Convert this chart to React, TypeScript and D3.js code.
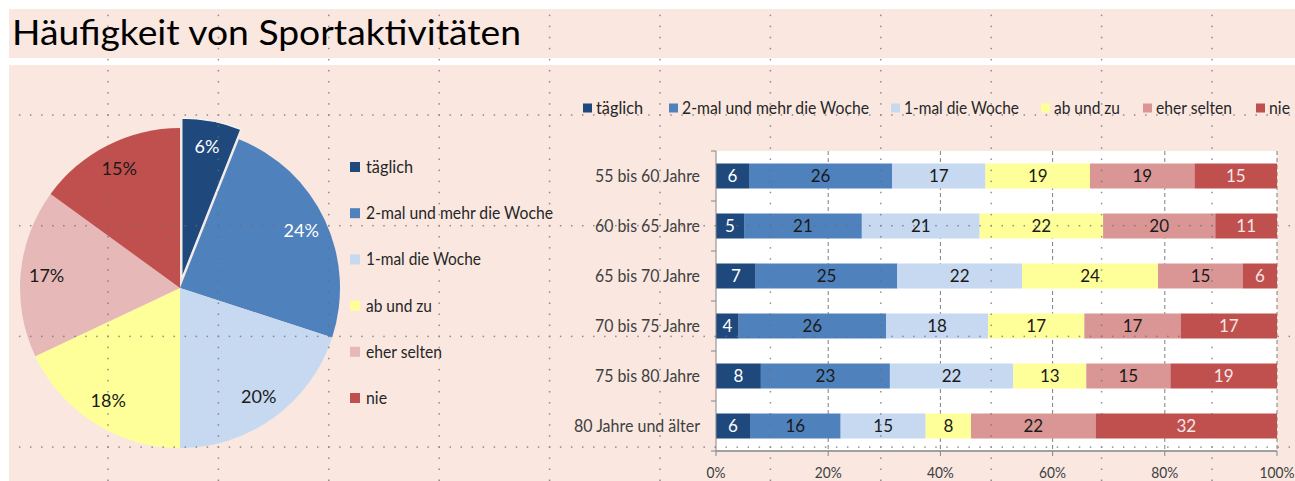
import React from "react";
import * as d3 from "d3";

// ---------- data ----------
const TITLE = "Häufigkeit von Sportaktivitäten";
const categories = [
  "täglich",
  "2-mal und mehr die Woche",
  "1-mal die Woche",
  "ab und zu",
  "eher selten",
  "nie",
];
const pieValues = [6, 24, 20, 18, 17, 15];

const ageGroups = [
  "55 bis 60 Jahre",
  "60 bis 65 Jahre",
  "65 bis 70 Jahre",
  "70 bis 75 Jahre",
  "75 bis 80 Jahre",
  "80 Jahre und älter",
];
const taeglich = [6, 5, 7, 4, 8, 6];
const zweimal = [26, 21, 25, 26, 23, 16];
const einmal = [17, 21, 22, 18, 22, 15];
const abUndZu = [19, 22, 24, 17, 13, 8];
const eherSelten = [19, 20, 15, 17, 15, 22];
const nie = [15, 11, 6, 17, 19, 32];
const barSeries = [taeglich, zweimal, einmal, abUndZu, eherSelten, nie];
const xTicks = [0, 0.2, 0.4, 0.6, 0.8, 1];

// ---------- style ----------
const W = 1295;
const H = 481;
const FONT = "Lato, 'Open Sans', sans-serif";
const PINK = "#f9e7e0";
const pieColors = ["#1f497d", "#4f81bd", "#c6d9f1", "#ffff99", "#e6b9b8", "#c0504d"];
const barColors = ["#1f497d", "#4f81bd", "#c6d9f1", "#ffff99", "#d99694", "#c0504d"];
const pieLabelColors = ["#ffffff", "#ffffff", "#1a1a1a", "#1a1a1a", "#1a1a1a", "#1a1a1a"];
const barLabelColors = ["#ffffff", "#1a1a1a", "#1a1a1a", "#1a1a1a", "#1a1a1a", "#f5e6e6"];
const legendTextWidths = [47, 187, 115, 66, 76, 21];
const barLegendX = [583, 669, 891, 1041, 1143, 1256];
const ageLabelWidths = [105, 105, 105, 105, 105, 126];

export default function App() {
  // ---- pie ----
  const cx = 180, cy = 288, R = 160;
  const pie = d3.pie<number>().sort(null).value((d) => d)(pieValues);
  const arc = d3.arc<d3.PieArcDatum<number>>().innerRadius(0).outerRadius(R);

  // ---- bars ----
  const x0 = 716, x1 = 1277, y0 = 151, y1 = 451;
  const x = d3.scaleLinear().domain([0, 1]).range([x0, x1]);
  const y = d3.scaleBand<string>().domain(ageGroups).range([y0, y1]).paddingInner(0.5).paddingOuter(0.25);
  const rows = ageGroups.map((g, i) => {
    const o: Record<string, number | string> = { group: g };
    categories.forEach((c, k) => (o[c] = barSeries[k][i]));
    return o;
  });
  const stacked = d3
    .stack<Record<string, number | string>>()
    .keys(categories)
    .value((d, key) => d[key] as number)
    .offset(d3.stackOffsetExpand)(rows);

  // ---- dotted sheet grid ----
  const gx = d3.range(11).map((k) => 108 + 110.4 * k);
  const gy = d3.range(4).map((k) => 115 + 110.7 * k);
  const dots: { x: number; y: number }[] = [];
  gx.forEach((vx) => {
    for (let j = -9; j <= 33; j++) {
      const yy = 115 + 11.07 * j;
      if (yy >= 12 && yy <= H) dots.push({ x: vx, y: yy });
    }
  });
  gy.forEach((hy) => {
    for (let i = -9; i <= 108; i++) {
      const xx = 108 + 11.04 * i;
      if (xx >= 9 && xx <= W) dots.push({ x: xx, y: hy });
    }
  });

  return (
    <svg
      width={W}
      height={H}
      style={{ position: "fixed", left: 0, top: 0, display: "block" }}
      fontFamily={FONT}
    >
      <rect x={0} y={0} width={W} height={H} fill="#ffffff" />
      <rect x={9} y={9} width={W - 9} height={49} fill={PINK} />
      <rect x={9} y={65} width={W - 9} height={H - 65} fill={PINK} />

      {/* title */}
      <text x={12} y={45} fontSize={34} fill="#000" textLength={509} lengthAdjust="spacingAndGlyphs">
        {TITLE}
      </text>

      {/* pie */}
      <g transform={`translate(${cx},${cy})`}>
        {pie.map((d, i) => {
          const mid = (d.startAngle + d.endAngle) / 2;
          const off = i === 0 ? 10 : 0;
          const dx = Math.sin(mid) * off;
          const dy = -Math.cos(mid) * off;
          const lr = 134;
          return (
            <g key={i} transform={`translate(${dx},${dy})`}>
              <path
                d={arc(d) || ""}
                fill={pieColors[i]}
                stroke={i === 0 ? "#f4f4f4" : "none"}
                strokeWidth={1.2}
              />
              <text
                x={Math.sin(mid) * lr}
                y={-Math.cos(mid) * lr}
                dy="0.35em"
                textAnchor="middle"
                fontSize={18}
                fill={pieLabelColors[i]}
              >
                {`${d.data}%`}
              </text>
            </g>
          );
        })}
      </g>

      {/* pie legend */}
      {categories.map((c, i) => {
        const ly = 167 + 46.2 * i;
        return (
          <g key={c}>
            <rect x={350} y={ly - 5} width={10} height={10} fill={pieColors[i]} />
            <text
              x={366}
              y={ly}
              dy="0.35em"
              fontSize={17}
              fill="#262626"
              textLength={legendTextWidths[i]}
              lengthAdjust="spacingAndGlyphs"
            >
              {c}
            </text>
          </g>
        );
      })}

      {/* bar legend */}
      {categories.map((c, i) => {
        const lx = barLegendX[i];
        return (
          <g key={"b" + c}>
            <rect x={lx} y={108 - 4.5} width={9} height={9} fill={barColors[i]} />
            <text
              x={lx + 13}
              y={108}
              dy="0.35em"
              fontSize={17}
              fill="#262626"
              textLength={legendTextWidths[i]}
              lengthAdjust="spacingAndGlyphs"
            >
              {c}
            </text>
          </g>
        );
      })}

      {/* bar plot area */}
      <rect x={x0} y={y0} width={x1 - x0} height={y1 - y0} fill="#ffffff" />
      {xTicks.slice(1).map((t) => (
        <line
          key={"g" + t}
          x1={x(t)}
          x2={x(t)}
          y1={y0}
          y2={y1}
          stroke="#7f7f7f"
          strokeWidth={1}
          strokeDasharray="4 3"
        />
      ))}

      {stacked.map((s, k) => (
        <g key={s.key}>
          {s.map((d, i) => {
            const bx = x(d[0]);
            const bw = x(d[1]) - x(d[0]);
            const by = y(ageGroups[i]) || 0;
            return (
              <g key={i}>
                <rect x={bx} y={by} width={bw} height={y.bandwidth()} fill={barColors[k]} />
                <text
                  x={bx + bw / 2}
                  y={by + y.bandwidth() / 2}
                  dy="0.35em"
                  textAnchor="middle"
                  fontSize={17}
                  fill={barLabelColors[k]}
                >
                  {barSeries[k][i]}
                </text>
              </g>
            );
          })}
        </g>
      ))}

      {/* axes */}
      <line x1={x0} x2={x0} y1={y0} y2={y1} stroke="#868686" strokeWidth={1} />
      {d3.range(ageGroups.length + 1).map((i) => {
        const ty = y0 + y.step() * i;
        return <line key={"yt" + i} x1={x0 - 5} x2={x0} y1={ty} y2={ty} stroke="#868686" />;
      })}
      <line x1={x0} x2={x1} y1={y1} y2={y1} stroke="#a0a0a0" strokeWidth={2} />
      {xTicks.map((t) => (
        <g key={"xt" + t}>
          <line x1={x(t)} x2={x(t)} y1={y1} y2={y1 + 5} stroke="#868686" />
          <text
            transform={`translate(${x(t)},${y1 + 21}) scale(0.86,1)`}
            dy="0.35em"
            textAnchor="middle"
            fontSize={16}
            fill="#404040"
          >
            {`${Math.round(t * 100)}%`}
          </text>
        </g>
      ))}
      {ageGroups.map((g, i) => (
        <text
          key={"yl" + g}
          x={700}
          y={(y(g) || 0) + y.bandwidth() / 2}
          dy="0.35em"
          textAnchor="end"
          fontSize={17}
          fill="#404040"
          textLength={ageLabelWidths[i]}
          lengthAdjust="spacingAndGlyphs"
        >
          {g}
        </text>
      ))}

      {/* dotted sheet grid overlay */}
      <g fill="#6e6e6e" opacity={0.75}>
        {dots.map((p, i) => (
          <rect key={i} x={p.x - 0.75} y={p.y - 0.75} width={1.5} height={1.5} />
        ))}
      </g>
    </svg>
  );
}
